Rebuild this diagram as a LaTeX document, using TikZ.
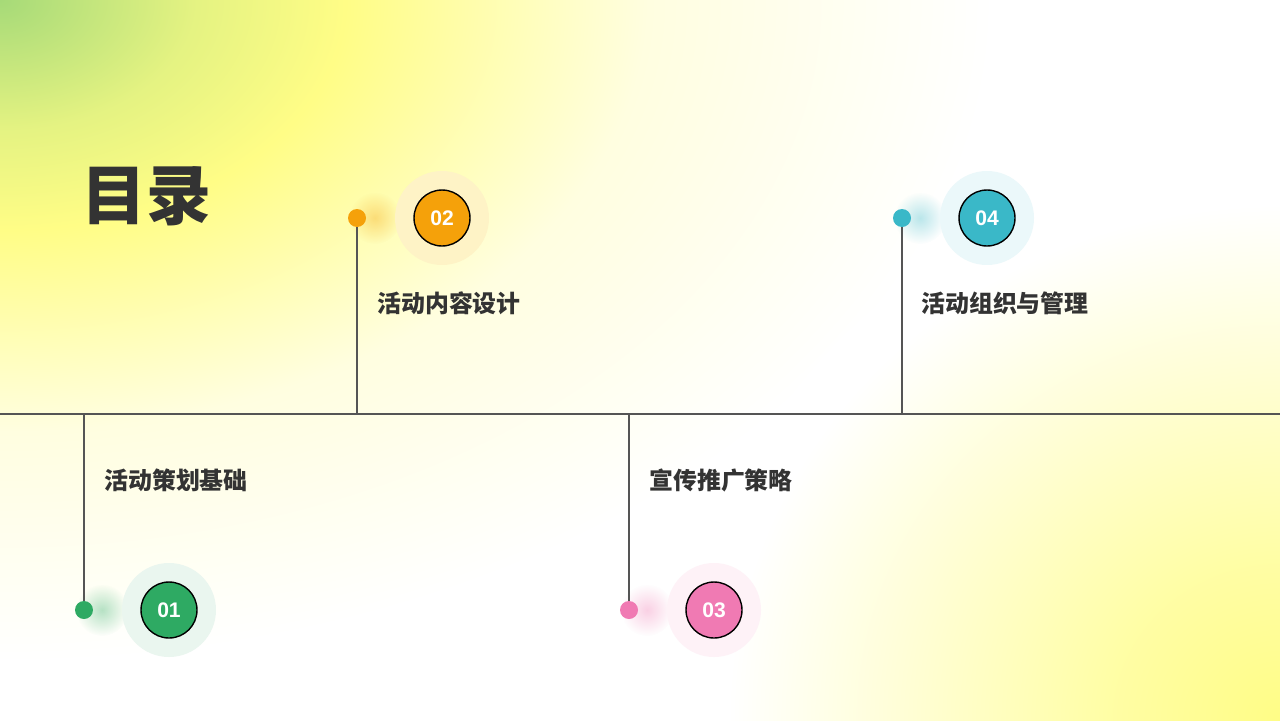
\documentclass[tikz,border=0pt]{standalone}
\usepackage{fontspec}
\setmainfont{Liberation Sans}
\newfontfamily\cjk{Noto Sans CJK SC}
\usepackage{xcolor}
\usepackage{tikz}
\usetikzlibrary{fadings}

\definecolor{inkgray}{HTML}{333333}
\definecolor{axisgray}{HTML}{555555}
\definecolor{cgreen}{HTML}{2EAA63}
\definecolor{corange}{HTML}{F5A10A}
\definecolor{cpink}{HTML}{F07AB3}
\definecolor{cteal}{HTML}{3AB8C8}
\definecolor{bggreen}{HTML}{A6DA78}
\definecolor{bgyellow}{HTML}{FFFD86}
\definecolor{bgpale}{HTML}{FFFEE0}

\pgfdeclareradialshading{cornerglow}{\pgfpoint{0bp}{0bp}}{%
  color(0bp)=(bggreen); color(4.5bp)=(bgyellow!70!bggreen); color(8bp)=(bgyellow);
  color(15bp)=(bgpale); color(23bp)=(white); color(50bp)=(white)}
\pgfdeclareradialshading{footglow}{\pgfpoint{0bp}{0bp}}{%
  color(0bp)=(bgyellow); color(7bp)=(bgyellow!75!white); color(23bp)=(white); color(50bp)=(white)}
\tikzfading[name=glowfade, inner color=transparent!65, outer color=transparent!100]

\begin{document}
\begin{tikzpicture}[x=0.02cm, y=-0.02cm,
    dotmark/.style={circle, inner sep=0pt, minimum size=0.36cm},
    halo/.style={circle, inner sep=0pt, minimum size=1.88cm},
    numdisc/.style={circle, draw=black, line width=0.8pt, inner sep=0pt,
                    minimum size=1.12cm, text=white, font=\bfseries\fontsize{12}{14}\selectfont},
    itemtext/.style={anchor=west, inner sep=0pt, text=inkgray,
                     font=\cjk\bfseries\fontsize{13.6}{16}\selectfont},
    stem/.style={draw=axisgray, line width=0.8pt}]
  \useasboundingbox (0,0) rectangle (1280,720);

  % background
  \begin{scope}
    \clip (0,0) rectangle (1280,720);
    \fill[white] (0,0) rectangle (1280,720);
    \shade[shading=cornerglow] (0,0) ellipse [x radius=1080, y radius=720];
    \shade[shading=footglow] (1280,720) ellipse [x radius=600, y radius=560];
  \end{scope}

  % title
  \node[anchor=west, inner sep=0pt, text=inkgray,
        font=\cjk\bfseries\fontsize{37}{42}\selectfont] (title) at (81,196) {目录};

  % axis
  \coordinate (left) at (0,414);
  \coordinate (right) at (1280,414);
  \draw[stem] (left) -- (right);

  \coordinate (a1) at (84,414);
  \coordinate (a2) at (357,414);
  \coordinate (a3) at (629,414);
  \coordinate (a4) at (902,414);

  % glows beside the dots
  \fill[cgreen, path fading=glowfade] (102,610) circle [radius=26];
  \fill[corange, path fading=glowfade] (375,218) circle [radius=26];
  \fill[cpink, path fading=glowfade] (647,610) circle [radius=26];
  \fill[cteal, path fading=glowfade] (920,218) circle [radius=26];

  % dots
  \node[dotmark, fill=cgreen] (d1) at (84,610) {};
  \node[dotmark, fill=corange] (d2) at (357,218) {};
  \node[dotmark, fill=cpink] (d3) at (629,610) {};
  \node[dotmark, fill=cteal] (d4) at (902,218) {};

  \draw[stem] (a1) -- (d1.north);
  \draw[stem] (a2) -- (d2.south);
  \draw[stem] (a3) -- (d3.north);
  \draw[stem] (a4) -- (d4.south);

  % numbered discs
  \node[halo, fill=cgreen!10] (h1) at (169,610) {};
  \node[halo, fill=corange!12!bgpale] (h2) at (442,218) {};
  \node[halo, fill=cpink!10] (h3) at (714,610) {};
  \node[halo, fill=cteal!10] (h4) at (987,218) {};

  \node[numdisc, fill=cgreen] (n1) at (h1) {01};
  \node[numdisc, fill=corange] (n2) at (h2) {02};
  \node[numdisc, fill=cpink] (n3) at (h3) {03};
  \node[numdisc, fill=cteal] (n4) at (h4) {04};

  % labels
  \node[itemtext] (t1) at (104,480) {活动策划基础};
  \node[itemtext] (t2) at (377,303) {活动内容设计};
  \node[itemtext] (t3) at (649,480) {宣传推广策略};
  \node[itemtext] (t4) at (921,303) {活动组织与管理};
\end{tikzpicture}
\end{document}
